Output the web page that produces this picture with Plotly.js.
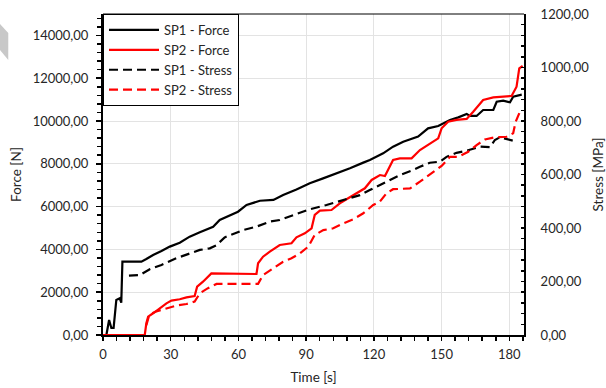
<!DOCTYPE html>
<html>
<head>
<meta charset="utf-8">
<script src="https://cdn.plot.ly/plotly-3.0.1.min.js"></script>
<style>html,body{margin:0;padding:0;background:#fff;}#chart{width:606px;height:388px;}</style>
</head>
<body>
<div id="chart"></div>
<script>
// ---- Data ----
const seriesNames = ["SP1 - Force", "SP2 - Force", "SP1 - Stress", "SP2 - Stress"];

const sp1ForceTime = [0,1.5,2.7,3.7,4.7,5.9,7.4,8.1,8.6,17,19.2,22.2,25.9,29.6,34,38.4,42.9,48.8,51.7,56.2,59.8,63.6,69.5,75.5,79.8,85.7,91.6,97.5,103.5,109.4,115.3,118.2,122.6,124.1,128.5,133,139.6,144,148.5,153.7,157.4,161.1,162.5,165.5,168.4,172.9,174.4,177.3,180.3,181.7,185.5];
const sp1Force = [0,0,700,330,330,1640,1715,1510,3425,3425,3550,3740,3925,4130,4315,4595,4800,5060,5375,5580,5760,6075,6275,6310,6540,6800,7090,7320,7555,7790,8055,8180,8410,8490,8800,9035,9270,9655,9765,10050,10170,10330,10235,10235,10515,10515,10900,10950,10875,11140,11230];

const sp2ForceTime = [0,18.5,19.2,20,22.2,25.1,28.1,30.3,34,37,40.6,41.7,44.3,48,51.7,60.6,68,68.7,70.9,73.9,78.3,83.5,85.7,89.4,92.4,93.8,96.1,101.2,104.9,108.6,112.3,116,119,122.7,124.9,128.5,131.5,136.7,140.4,144.8,148.5,150,152.9,156.6,161.1,164,168.4,172.9,181,183.2,184.4,185.9];
const sp2Force = [0,0,545,855,1015,1245,1480,1605,1670,1760,1820,2260,2490,2880,2880,2850,2850,3350,3660,3895,4205,4285,4565,4750,4985,5610,5810,5840,6155,6390,6620,6855,7245,7475,7430,8180,8255,8255,8645,8960,9190,9660,9970,10050,10095,10435,10980,11105,11170,11605,12460,12570];

const sp1StressTime = [11.5,16.3,20.7,25.9,32.5,38.4,42.9,47.3,50.3,53.9,59.8,62,68,73.9,78.3,84.3,91.6,99,106.4,113.8,118.2,121.2,124.1,131.5,137.5,140.4,144.8,149.3,152.2,156.6,161.1,167,171.4,173.6,175.8,180.3,183.2];
const sp1Stress = [222,224,246,262,287,303,318,324,336,365,385,392,405,424,430,449,470,486,505,523,542,554,567,598,617,629,644,648,666,681,689,704,702,729,739,729,723];

const sp2StressTime = [19.2,20.5,23.2,28.1,32.5,37,40.6,42.9,46.5,50.3,60.6,68.7,70.9,75.4,79.8,83.5,87.2,90.9,93.8,97.6,102,106.4,110.8,115.3,119.7,122.6,125.6,128.5,136,140.4,145.6,150,153.7,157.4,161.8,165.5,169.2,173.6,178.8,181.7,182.8,184.7,186.2];
const sp2Stress = [37,75,87,100,110,116,125,156,175,191,191,191,224,249,274,287,305,330,374,392,399,417,432,455,486,498,530,545,548,573,604,632,666,666,685,710,731,739,741,754,797,835,838];

const xTitle = "Time [s]";
const yTitle = "Force [N]";
const y2Title = "Stress [MPa]";

// ---- Style ----
const FONT = "Lato, 'Open Sans', sans-serif";
const TXT = "#262626";
const LW = 2.2;
const DASH = "9px,5px";

const traces = [
  {x: sp1ForceTime, y: sp1Force, name: seriesNames[0], mode: "lines", line: {color: "#000000", width: LW}, yaxis: "y"},
  {x: sp2ForceTime, y: sp2Force, name: seriesNames[1], mode: "lines", line: {color: "#ff0000", width: LW}, yaxis: "y"},
  {x: sp1StressTime, y: sp1Stress, name: seriesNames[2], mode: "lines", line: {color: "#000000", width: LW, dash: DASH}, yaxis: "y2"},
  {x: sp2StressTime, y: sp2Stress, name: seriesNames[3], mode: "lines", line: {color: "#ff0000", width: LW, dash: DASH}, yaxis: "y2"}
];

const xRange = [0, 186.5];
const yRange = [0, 15000];
const y2Range = [0, 1200];

const layout = {
  width: 606, height: 388,
  margin: {l: 103, r: 82, t: 14, b: 53, pad: 0},
  paper_bgcolor: "#ffffff", plot_bgcolor: "#ffffff",
  font: {family: FONT, size: 13, color: TXT},
  separators: ",.",
  showlegend: true,
  legend: {x: 0, y: 1, xanchor: "left", yanchor: "top", bgcolor: "#ffffff", bordercolor: "#000000", borderwidth: 1,
           font: {family: FONT, size: 13, color: TXT}, tracegroupgap: 0, itemwidth: 50},
  xaxis: {
    range: xRange, tickmode: "linear", tick0: 0, dtick: 30,
    showline: true, linecolor: "#000000", linewidth: 2, layer: "below traces",
    ticks: "outside", ticklen: 4, tickwidth: 1.5, tickcolor: "#000000",
    minor: {dtick: 6, ticks: "outside", ticklen: 4, tickwidth: 1.5, tickcolor: "#000000", showgrid: false},
    showgrid: true, gridcolor: "#e3e3e3", gridwidth: 1, zeroline: false,
    tickfont: {family: FONT, size: 13, color: TXT}, ticklabelstandoff: 2,
    title: {text: xTitle, font: {family: FONT, size: 13.5, color: TXT}, standoff: 12},
    automargin: false, fixedrange: true
  },
  xaxis2: {
    overlaying: "x", anchor: "y", side: "bottom", range: xRange, tickmode: "linear", tick0: 0, dtick: 30,
    ticks: "inside", ticklen: 4, tickwidth: 1.5, tickcolor: "#000000",
    showline: false, showgrid: false, zeroline: false, showticklabels: false, automargin: false
  },
  yaxis: {
    range: yRange, tickmode: "linear", tick0: 0, dtick: 2000, tickformat: ".2f",
    showline: true, linecolor: "#000000", linewidth: 2, layer: "below traces",
    ticks: "outside", ticklen: 5, tickwidth: 1.5, tickcolor: "#000000",
    minor: {dtick: 400, ticks: "outside", ticklen: 4, tickwidth: 1.5, tickcolor: "#000000", showgrid: false},
    showgrid: true, gridcolor: "#e3e3e3", gridwidth: 1, zeroline: false,
    tickfont: {family: FONT, size: 13, color: TXT}, ticklabelstandoff: 5,
    title: {text: yTitle, font: {family: FONT, size: 13.5, color: TXT}, standoff: 8},
    automargin: false, fixedrange: true
  },
  yaxis3: {
    overlaying: "y", anchor: "x", side: "left", range: yRange, tickmode: "linear", tick0: 0, dtick: 2000,
    ticks: "inside", ticklen: 3, tickwidth: 1.5, tickcolor: "#000000",
    showline: false, showgrid: false, zeroline: false, showticklabels: false, automargin: false
  },
  yaxis2: {
    overlaying: "y", anchor: "x", side: "right", range: y2Range, tickmode: "linear", tick0: 0, dtick: 200, tickformat: ".2f",
    showline: true, linecolor: "#000000", linewidth: 2,
    ticks: "inside", ticklen: 3, tickwidth: 1.5, tickcolor: "#000000",
    minor: {dtick: 40, ticks: "inside", ticklen: 3, tickwidth: 1.5, tickcolor: "#000000", showgrid: false},
    showgrid: false, zeroline: false,
    tickfont: {family: FONT, size: 13, color: TXT}, ticklabelstandoff: 12,
    title: {text: y2Title, font: {family: FONT, size: 13.5, color: TXT}, standoff: 15},
    automargin: false, fixedrange: true
  },
  yaxis4: {
    overlaying: "y", anchor: "x", side: "right", range: y2Range, tickmode: "linear", tick0: 0, dtick: 200,
    ticks: "outside", ticklen: 3, tickwidth: 1.5, tickcolor: "#000000",
    showline: false, showgrid: false, zeroline: false, showticklabels: false, automargin: false
  },
  shapes: [
    {type: "line", xref: "paper", yref: "paper", x0: 0, x1: 1, y0: 1, y1: 1, line: {color: "#000000", width: 1}},
    {type: "path", xref: "paper", yref: "paper", path: "M -0.2447 0.969 L -0.225 0.941 L -0.225 0.857 L -0.2447 0.888 Z",
     fillcolor: "#c8c8c8", line: {width: 0}}
  ]
};

Plotly.newPlot("chart", traces, layout, {staticPlot: true, displayModeBar: false});
</script>
</body>
</html>
